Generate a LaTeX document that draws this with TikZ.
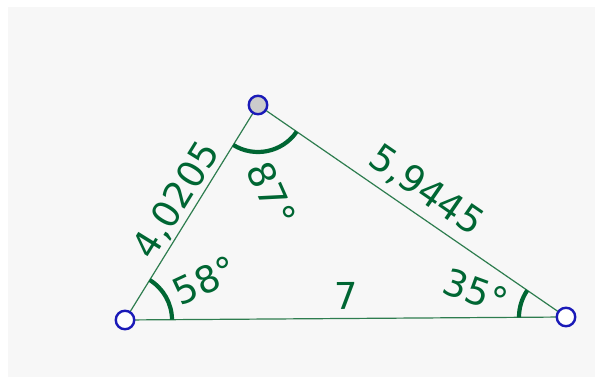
\documentclass[tikz,border=0pt]{standalone}
\usepackage{fontspec}
\setmainfont{DejaVu Sans}
\usetikzlibrary{angles}
\definecolor{ggreen}{HTML}{006633}
\definecolor{gline}{HTML}{2E7D4F}
\definecolor{gblue}{HTML}{1A1AB8}
\definecolor{panel}{HTML}{F7F7F7}
\tikzset{
  edge/.style={draw=gline, line width=1.2pt},
  angarc/.style={draw=ggreen, line width=4.2pt, angle radius=47pt},
  lbl/.style={text=ggreen, inner sep=0pt, font=\fontsize{37}{40}\selectfont},
  pt/.style={circle, draw=gblue, line width=2.4pt, minimum size=18.5pt, inner sep=0pt},
}
\begin{document}
\begin{tikzpicture}[x=1pt,y=1pt]
\useasboundingbox (0,0) rectangle (595,377);
\fill[white] (0,0) rectangle (595,377);
\fill[panel] (8,0) rectangle (595,370);
\coordinate (A) at (125,57);
\coordinate (B) at (258,272);
\coordinate (C) at (566,60);
\draw[edge] (A) -- (B);
\draw[edge] (B) -- (C);
\draw[edge] (C) -- (A);
\pic[angarc] {angle = C--A--B};
\pic[angarc] {angle = A--B--C};
\pic[angarc] {angle = B--C--A};
\node[lbl, rotate=58.26] (lab) at (177,177) {4,0205};
\node[lbl, rotate=-34.54] (lbc) at (426,186) {5,9445};
\node[lbl, rotate=0.4] (lca) at (346,81) {7};
\node[lbl, rotate=25] (la) at (205,97) {58°};
\node[lbl, rotate=-66] (lb) at (271.5,183.5) {87°};
\node[lbl, rotate=-20] (lc) at (476,85.5) {35°};
\node[pt, fill=white] (pA) at (A) {};
\node[pt, fill=black!20] (pB) at (B) {};
\node[pt, fill=white] (pC) at (C) {};
\end{tikzpicture}
\end{document}
